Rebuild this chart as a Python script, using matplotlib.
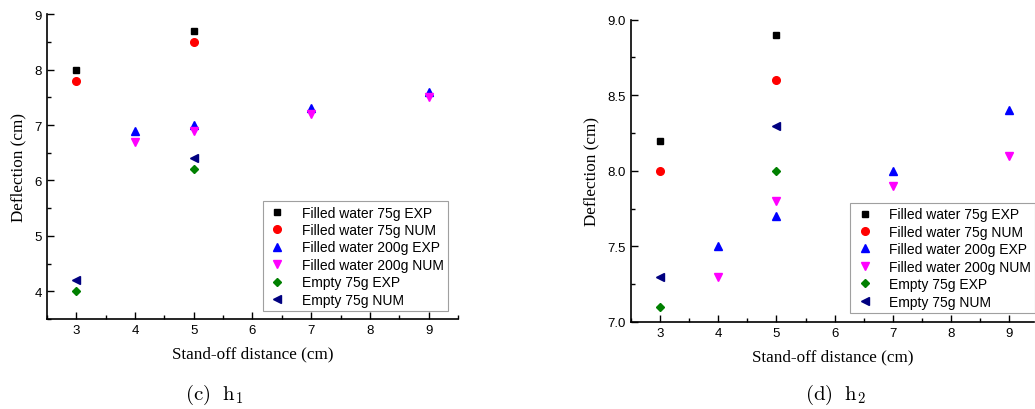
import matplotlib
matplotlib.use("Agg")
import matplotlib.pyplot as plt
from matplotlib.ticker import MultipleLocator, FormatStrFormatter

plt.rcParams["mathtext.fontset"] = "cm"

labels = ["Filled water 75g EXP", "Filled water 75g NUM", "Filled water 200g EXP",
          "Filled water 200g NUM", "Empty 75g EXP", "Empty 75g NUM"]
colors = ["black", "red", "blue", "magenta", "green", "navy"]
markers = ["s", "o", "^", "v", "D", "<"]
sizes = [5, 5.5, 5.5, 5.5, 4.5, 5.5]

x_75 = [3, 5]
x_200 = [4, 5, 7, 9]

# (c) h1
h1_75_exp = [8.0, 8.7]
h1_75_num = [7.8, 8.5]
h1_200_exp = [6.9, 7.0, 7.3, 7.6]
h1_200_num = [6.7, 6.9, 7.2, 7.5]
h1_empty_exp = [4.0, 6.2]
h1_empty_num = [4.2, 6.4]

# (d) h2
h2_75_exp = [8.2, 8.9]
h2_75_num = [8.0, 8.6]
h2_200_exp = [7.5, 7.7, 8.0, 8.4]
h2_200_num = [7.3, 7.8, 7.9, 8.1]
h2_empty_exp = [7.1, 8.0]
h2_empty_num = [7.3, 8.3]

tick_font = "Liberation Sans"
label_font = "Liberation Serif"


def draw(ax, series, ylim, ymajor, yminor, yfmt, legend_anchor):
    xs = [x_75, x_75, x_200, x_200, x_75, x_75]
    for x, y, lab, c, m, s in zip(xs, series, labels, colors, markers, sizes):
        ax.plot(x, y, linestyle="none", marker=m, color=c, markersize=s, label=lab)
    ax.set_xlim(2.5, 9.5)
    ax.set_ylim(*ylim)
    ax.xaxis.set_major_locator(MultipleLocator(1))
    ax.xaxis.set_minor_locator(MultipleLocator(0.5))
    ax.yaxis.set_major_locator(MultipleLocator(ymajor))
    ax.yaxis.set_minor_locator(MultipleLocator(yminor))
    ax.yaxis.set_major_formatter(FormatStrFormatter(yfmt))
    ax.spines["top"].set_visible(False)
    ax.spines["right"].set_visible(False)
    for sp in ("left", "bottom"):
        ax.spines[sp].set_linewidth(1.2)
    ax.tick_params(which="major", direction="in", length=5, width=1, labelsize=9.5)
    ax.tick_params(which="minor", direction="in", length=3, width=1)
    for t in ax.get_xticklabels() + ax.get_yticklabels():
        t.set_family(tick_font)
    ax.set_xlabel("Stand-off distance (cm)", family=label_font, fontsize=12.3, labelpad=7)
    ax.set_ylabel("Deflection (cm)", family=label_font, fontsize=12.3, labelpad=6)
    leg = ax.legend(loc="lower left", bbox_to_anchor=legend_anchor, frameon=True,
                    fancybox=False, edgecolor="#888888", prop={"family": tick_font, "size": 10},
                    handletextpad=1.0, labelspacing=0.25, borderpad=0.3, handlelength=1.5,
                    borderaxespad=0)
    leg.get_frame().set_linewidth(0.8)


fig = plt.figure(figsize=(10.35, 4.10), dpi=100)
ax1 = fig.add_axes([0.0454, 0.2195, 0.3971, 0.7435])
ax2 = fig.add_axes([0.6094, 0.2122, 0.3896, 0.7373])

draw(ax1, [h1_75_exp, h1_75_num, h1_200_exp, h1_200_num, h1_empty_exp, h1_empty_num],
     (3.5, 9), 1, 0.5, "%d", (0.525, 0.026))
draw(ax2, [h2_75_exp, h2_75_num, h2_200_exp, h2_200_num, h2_empty_exp, h2_empty_num],
     (7.0, 9.0), 0.5, 0.25, "%.1f", (0.545, 0.03))
ax2.set_xlim(2.5, 9.42)

fig.text(214 / 1035, 1 - 395 / 410, r"$\mathrm{(c)\ \ h_1}$", ha="center", va="center", fontsize=15)
fig.text(836 / 1035, 1 - 395 / 410, r"$\mathrm{(d)\ \ h_2}$", ha="center", va="center", fontsize=15)

fig.savefig("out.png", dpi=100)
